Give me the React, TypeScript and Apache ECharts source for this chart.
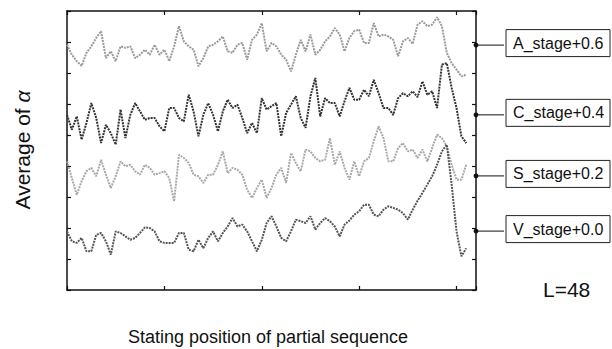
import React, { useEffect, useRef } from "react";
import * as echarts from "echarts";

// sampling step along the x axis (starting position index)
const X_STEP = 5;

// Average of alpha (with stage offsets)
const A_STAGE = [
  0.791, 0.759, 0.738, 0.723, 0.765, 0.786, 0.813, 0.835, 0.748, 0.770, 0.738, 0.786, 0.781, 0.786, 0.748, 0.759, 0.775, 0.759,
  0.791, 0.759, 0.775, 0.738, 0.786, 0.851, 0.802, 0.786, 0.775, 0.722, 0.748, 0.786, 0.791, 0.802, 0.818, 0.770, 0.765,
  0.791, 0.797, 0.743, 0.807, 0.824, 0.861, 0.770, 0.797, 0.786, 0.759, 0.743, 0.705, 0.759, 0.807, 0.770, 0.824, 0.759,
  0.775, 0.802, 0.818, 0.845, 0.824, 0.770, 0.813, 0.835, 0.840, 0.797, 0.797, 0.861, 0.818, 0.824, 0.818, 0.807, 0.754,
  0.802, 0.813, 0.794, 0.856, 0.867, 0.851, 0.856, 0.880, 0.851, 0.765, 0.732, 0.711, 0.689, 0.695,
];
const C_STAGE = [
  0.565, 0.517, 0.560, 0.485, 0.539, 0.603, 0.555, 0.474, 0.533, 0.506, 0.469, 0.582, 0.490, 0.565, 0.603, 0.576, 0.549, 0.555,
  0.555, 0.528, 0.512, 0.587, 0.587, 0.555, 0.544, 0.630, 0.576, 0.496, 0.565, 0.603, 0.565, 0.512, 0.576, 0.614, 0.587,
  0.598, 0.555, 0.506, 0.539, 0.506, 0.619, 0.582, 0.593, 0.603, 0.496, 0.571, 0.598, 0.625, 0.555, 0.523, 0.625, 0.684,
  0.560, 0.619, 0.603, 0.603, 0.560, 0.609, 0.652, 0.614, 0.614, 0.646, 0.625, 0.678, 0.635, 0.587, 0.587, 0.565, 0.619,
  0.635, 0.625, 0.641, 0.622, 0.673, 0.630, 0.641, 0.587, 0.727, 0.732, 0.652, 0.587, 0.496, 0.474,
];
const S_STAGE = [
  0.415, 0.361, 0.307, 0.351, 0.383, 0.394, 0.367, 0.420, 0.372, 0.329, 0.367, 0.415, 0.399, 0.404, 0.383, 0.372, 0.404, 0.394,
  0.372, 0.377, 0.383, 0.361, 0.286, 0.436, 0.426, 0.410, 0.372, 0.367, 0.345, 0.372, 0.372, 0.404, 0.447, 0.377, 0.394,
  0.388, 0.372, 0.324, 0.297, 0.329, 0.356, 0.297, 0.329, 0.372, 0.394, 0.345, 0.442, 0.410, 0.383, 0.453, 0.447, 0.426,
  0.415, 0.420, 0.490, 0.404, 0.447, 0.394, 0.356, 0.415, 0.367, 0.415, 0.426, 0.480, 0.528, 0.490, 0.415, 0.415, 0.458,
  0.474, 0.447, 0.453, 0.426, 0.453, 0.415, 0.458, 0.501, 0.490, 0.464, 0.404, 0.356, 0.356, 0.404,
];
const V_STAGE = [
  0.189, 0.157, 0.152, 0.168, 0.125, 0.125, 0.178, 0.184, 0.157, 0.114, 0.189, 0.184, 0.173, 0.162, 0.168, 0.184, 0.202, 0.200,
  0.189, 0.157, 0.152, 0.152, 0.152, 0.184, 0.184, 0.130, 0.125, 0.162, 0.135, 0.168, 0.189, 0.157, 0.184, 0.205, 0.232,
  0.205, 0.211, 0.189, 0.157, 0.125, 0.162, 0.216, 0.238, 0.205, 0.168, 0.157, 0.189, 0.227, 0.222, 0.216, 0.238, 0.195,
  0.216, 0.232, 0.222, 0.205, 0.173, 0.211, 0.224, 0.243, 0.254, 0.275, 0.275, 0.243, 0.238, 0.259, 0.270, 0.265, 0.259,
  0.248, 0.227, 0.259, 0.288, 0.313, 0.340, 0.367, 0.404, 0.447, 0.469, 0.340, 0.189, 0.109, 0.135,
];

const SERIES_NAMES = ["A_stage+0.6", "C_stage+0.4", "S_stage+0.2", "V_stage+0.0"];
const MARKER_LEVELS = [0.79, 0.565, 0.368, 0.19];
const X_MIN = 0;
const X_MAX = 420;
const X_INTERVAL = 100;
const Y_MIN = 0;
const Y_MAX = 0.9;
const Y_INTERVAL = 0.1;

const Y_TITLE = "Average of ";
const Y_TITLE_SYMBOL = "α";
const X_TITLE = "Stating position of partial sequence";
const NOTE = "L=48";

const COLORS = ["#9a9a9a", "#333333", "#a8a8a8", "#555555"];
const FONT = '"Liberation Sans", Arial, Helvetica, sans-serif';

export default function App() {
  const ref = useRef<HTMLDivElement>(null);

  useEffect(() => {
    if (!ref.current) return;
    const chart = echarts.init(ref.current, undefined, { renderer: "svg" });
    const all = [A_STAGE, C_STAGE, S_STAGE, V_STAGE];
    const axisLine = { show: true, onZero: false, lineStyle: { color: "#111", width: 1.5 } };
    const tick = { show: true, inside: true, length: 4, lineStyle: { color: "#111", width: 1.2 } };
    const xBase = {
      type: "value" as const,
      min: X_MIN,
      max: X_MAX,
      interval: X_INTERVAL,
      axisLine,
      axisTick: tick,
      axisLabel: { show: false },
      splitLine: { show: false },
    };
    const yBase = {
      type: "value" as const,
      min: Y_MIN,
      max: Y_MAX,
      interval: Y_INTERVAL,
      axisLine,
      axisTick: tick,
      axisLabel: { show: false },
      splitLine: { show: false },
    };
    chart.setOption({
      animation: false,
      backgroundColor: "#ffffff",
      grid: { left: 67, right: 136, top: 11, bottom: 59, containLabel: false },
      xAxis: [
        { ...xBase, position: "bottom" },
        { ...xBase, position: "top" },
      ],
      yAxis: [
        { ...yBase, position: "left" },
        { ...yBase, position: "right" },
      ],
      series: all.map((vals, k) => ({
        type: "line",
        name: SERIES_NAMES[k],
        data: vals.map((v, i) => [i * X_STEP, v]),
        showSymbol: false,
        symbol: "none",
        lineStyle: { color: COLORS[k], width: 2, type: [2, 1] },
        z: 2,
      })),
    });

    const xr = chart.convertToPixel({ xAxisIndex: 0 }, X_MAX) as number;
    const graphics: any[] = [];
    MARKER_LEVELS.forEach((lvl, i) => {
      const y = chart.convertToPixel({ yAxisIndex: 0 }, lvl) as number;
      const cy = y - 2;
      graphics.push({
        type: "line",
        shape: { x1: xr, y1: y, x2: 504, y2: y },
        style: { stroke: "#111", lineWidth: 1 },
      });
      graphics.push({
        type: "circle",
        shape: { cx: xr, cy: y, r: 2.4 },
        style: { fill: "#111" },
      });
      graphics.push({
        type: "rect",
        shape: { x: 506, y: cy - 13.5, width: 104, height: 27 },
        style: { fill: "#fff", stroke: "#222", lineWidth: 1 },
      });
      graphics.push({
        type: "text",
        x: 513,
        y: cy,
        style: {
          text: SERIES_NAMES[i],
          fontSize: 16,
          fontFamily: FONT,
          fill: "#111",
          align: "left",
          verticalAlign: "middle",
        },
      });
    });
    graphics.push({
      type: "text",
      x: 22,
      y: 150,
      rotation: Math.PI / 2,
      style: {
        text: Y_TITLE + "{a|" + Y_TITLE_SYMBOL + "}",
        rich: { a: { fontStyle: "italic", fontSize: 21, fontFamily: FONT, fill: "#111" } },
        fontSize: 21,
        fontFamily: FONT,
        fill: "#111",
        align: "center",
        verticalAlign: "middle",
      },
    });
    graphics.push({
      type: "text",
      x: 268,
      y: 337,
      style: {
        text: X_TITLE,
        fontSize: 18,
        fontFamily: FONT,
        fill: "#111",
        align: "center",
        verticalAlign: "middle",
      },
    });
    graphics.push({
      type: "text",
      x: 543,
      y: 289,
      style: {
        text: NOTE,
        fontSize: 21,
        fontFamily: FONT,
        fill: "#111",
        align: "left",
        verticalAlign: "middle",
      },
    });
    chart.setOption({ graphic: graphics });

    return () => chart.dispose();
  }, []);

  return (
    <div
      ref={ref}
      style={{ position: "fixed", left: 0, top: 0, width: 612, height: 349, background: "#fff" }}
    />
  );
}
